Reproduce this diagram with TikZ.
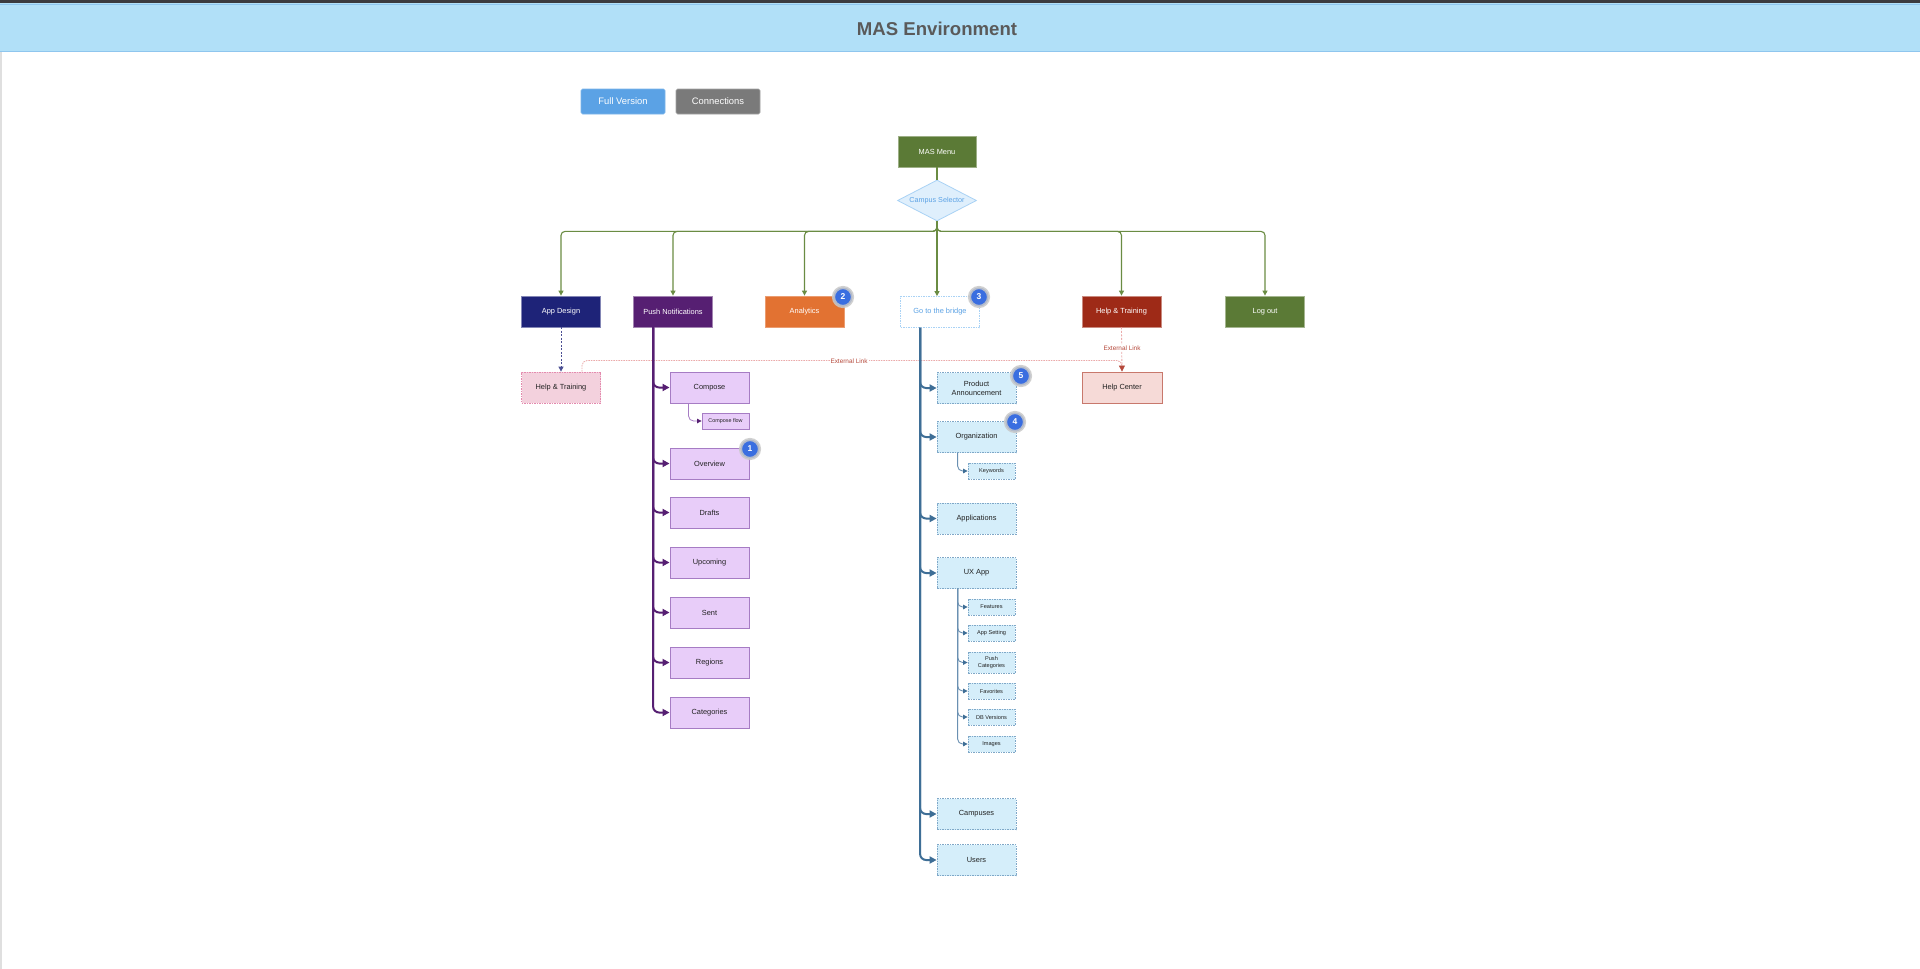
\documentclass[tikz,border=0pt]{standalone}
\usepackage{fontspec}
\setmainfont{Liberation Sans}
\usetikzlibrary{arrows.meta,shapes.geometric}
\newcommand\fsz[1]{\fontsize{#1}{#1}\selectfont}
\definecolor{hdrfill}{HTML}{B1E0F8}
\definecolor{hdrline}{HTML}{8FC6EE}
\definecolor{topbar}{HTML}{3B3B3F}
\definecolor{titlec}{HTML}{5A5A5A}
\definecolor{btnblue}{HTML}{5BA2E5}
\definecolor{btngrey}{HTML}{7A7A7A}
\definecolor{olive}{HTML}{5B7A36}
\definecolor{busc}{HTML}{6A8C43}
\definecolor{selfill}{HTML}{DFEFFC}
\definecolor{seldraw}{HTML}{A9D2F5}
\definecolor{navy}{HTML}{1E2378}
\definecolor{pushc}{HTML}{561F72}
\definecolor{orange}{HTML}{E27232}
\definecolor{redd}{HTML}{9E2A17}
\definecolor{pfill}{HTML}{E8CDF9}
\definecolor{pdraw}{HTML}{A67CC4}
\definecolor{bfill}{HTML}{D5EEFA}
\definecolor{bdraw}{HTML}{7FA8C8}
\definecolor{bridgec}{HTML}{3E6E96}
\definecolor{bsubc}{HTML}{6A90B2}
\definecolor{pinkfill}{HTML}{F3D1DD}
\definecolor{pinkdraw}{HTML}{E48AAE}
\definecolor{hcfill}{HTML}{F6DAD7}
\definecolor{hcdraw}{HTML}{C8786C}
\definecolor{extc}{HTML}{EBAAAA}
\definecolor{extt}{HTML}{B5483A}
\definecolor{badgeb}{HTML}{3A6EE0}
\definecolor{halo}{HTML}{C8C8C8}
\definecolor{txt}{HTML}{222222}
\begin{document}
\begin{tikzpicture}[x=1pt,y=-1pt,
  top/.style={minimum width=79pt,minimum height=31pt,inner sep=0pt,font=\fsz{7.4},text=white,line width=0.8pt},
  pch/.style={minimum width=79pt,minimum height=31pt,inner sep=0pt,fill=pfill,draw=pdraw,line width=0.9pt,font=\fsz{7.4},text=txt},
  psm/.style={pch,minimum width=47pt,minimum height=16pt,font=\fsz{5.4}},
  bch/.style={minimum width=79pt,minimum height=31pt,inner sep=0pt,fill=bfill,draw=bdraw,dash pattern=on 1.5pt off 1pt,line width=0.8pt,font=\fsz{7.4},text=txt,align=center},
  bsm/.style={bch,minimum width=47pt,minimum height=16pt,font=\fsz{5.6}},
  btn/.style={minimum width=84pt,minimum height=25pt,inner sep=0pt,rounded corners=1.5pt,text=white,font=\fsz{9.4},line width=0.6pt},
  bus/.style={draw=busc,line width=1.1pt,rounded corners=4pt,-{Triangle[length=5pt,width=5pt]}},
  ptr/.style={draw=pushc,line width=2pt,rounded corners=6pt,-{Triangle[length=7pt,width=7pt]}},
  btr/.style={draw=bridgec,line width=2pt,rounded corners=6pt,-{Triangle[length=7pt,width=7pt]}},
  psub/.style={draw=pdraw,line width=0.8pt,rounded corners=5pt,-{Triangle[length=4.5pt,width=4.5pt,color=pushc]}},
  bsub/.style={draw=bsubc,line width=0.9pt,rounded corners=5pt,-{Triangle[length=4.5pt,width=4.5pt,color=bridgec]}},
  badge/.style={circle,fill=badgeb,draw=halo,draw opacity=0.85,line width=3.2pt,minimum size=19pt,inner sep=0pt,text=white,font=\fsz{8.5}\bfseries},
  extlab/.style={fill=white,inner sep=1pt,text=extt,font=\fsz{6.4}}
]
\useasboundingbox (0,0) rectangle (1920,969);
\fill[white] (0,0) rectangle (1920,969);
% header
\fill[topbar] (0,0) rectangle (1920,3);
\fill[hdrfill] (0,3) rectangle (1920,52);
\draw[hdrline,line width=1pt] (0,4) -- (1920,4);
\draw[hdrline,line width=1pt] (0,51.5) -- (1920,51.5);
\draw[gray!25,line width=1.5pt] (0.75,52) -- (0.75,969);
\node[text=titlec,font=\fsz{18.6}\bfseries] (title) at (937,29) {MAS Environment};
% buttons
\node[btn,fill=btnblue,draw=btnblue!80!white] (full) at (623,101.5) {Full Version};
\node[btn,fill=btngrey,draw=btngrey!70!white] (conn) at (718,101.5) {Connections};
% menu and selector
\node[top,fill=olive,draw=olive!60!white,minimum width=78pt] (menu) at (937,151.5) {MAS Menu};
\node[diamond,aspect=2,minimum width=79pt,minimum height=41pt,inner sep=0pt,fill=selfill,draw=seldraw,line width=0.8pt,text=btnblue,font=\fsz{7.2}] (sel) at (937,200.5) {Campus Selector};
\draw[busc,line width=1.1pt] (menu.south) -- (sel.north);
% top row
\node[top,fill=navy,draw=navy!55!white] (appd) at (561,311.5) {App Design};
\node[top,fill=pushc,draw=pushc!55!white] (push) at (673,311.5) {Push Notifications};
\node[top,fill=orange,draw=orange!70!white] (anal) at (804.5,311.5) {Analytics};
\node[top,fill=white,draw=seldraw,dash pattern=on 1.5pt off 1pt,text=btnblue] (bridge) at (940,312) {Go to the bridge};
\node[top,fill=redd,draw=redd!55!white] (helpt) at (1121.5,311.5) {Help \& Training};
\node[top,fill=olive,draw=olive!55!white] (logout) at (1265,311.5) {Log out};
\draw[bus] (sel.south) -- ++(0,10) -| (appd.north);
\draw[bus] (sel.south) -- ++(0,10) -| (push.north);
\draw[bus] (sel.south) -- ++(0,10) -| (anal.north);
\draw[bus] (sel.south) -- (sel.south |- bridge.north);
\draw[bus] (sel.south) -- ++(0,10) -| (helpt.north);
\draw[bus] (sel.south) -- ++(0,10) -| (logout.north);
% second row left / right
\node[minimum width=79pt,minimum height=31pt,inner sep=0pt,fill=pinkfill,draw=pinkdraw,dash pattern=on 1.5pt off 1pt,line width=0.8pt,font=\fsz{7.4},text=txt] (htl) at (561,387.5) {Help \& Training};
\node[minimum width=80pt,minimum height=31pt,inner sep=0pt,fill=hcfill,draw=hcdraw,line width=0.9pt,font=\fsz{7.4},text=txt] (hc) at (1122,387.5) {Help Center};
\draw[navy!80!white,line width=0.8pt,dash pattern=on 2pt off 1.5pt,-{Triangle[length=5pt,width=5pt]}] (appd.south) -- (htl.north);
\coordinate (hs) at ([xshift=21pt]htl.north);
\draw[extc,line width=0.8pt,dash pattern=on 1.5pt off 1pt,rounded corners=5pt] (hs) |- ([yshift=11pt]hc.north) -- (hc.north);
\node[extlab] (ext1) at (849,361) {External Link};
\draw[extc,line width=0.8pt,dash pattern=on 2pt off 1.5pt,-{Triangle[length=6pt,width=6pt,color=extt]}] (helpt.south) -- (hc.north);
\node[extlab] (ext2) at (1122,348) {External Link};
% push subtree
\node[pch] (compose) at (709.5,387.5) {Compose};
\node[psm] (cflow) at (725.5,421) {Compose flow};
\node[pch] (overview) at (709.5,463.5) {Overview};
\node[pch] (drafts) at (709.5,512.5) {Drafts};
\node[pch] (upcoming) at (709.5,562.5) {Upcoming};
\node[pch] (sent) at (709.5,612.5) {Sent};
\node[pch] (regions) at (709.5,662.5) {Regions};
\node[pch] (categ) at (709.5,712.5) {Categories};
\coordinate (pt) at ([xshift=20pt]push.south west);
\foreach \n in {categ,regions,sent,upcoming,drafts,overview,compose}
  \draw[ptr] (pt) |- (\n.west);
\coordinate (ct) at ([xshift=19pt]compose.south west);
\draw[psub] (ct) |- (cflow.west);
% bridge subtree
\node[bch] (prod) at (976.5,388) {Product\\[1.5pt]Announcement};
\node[bch] (org) at (976.5,437) {Organization};
\node[bsm] (kw) at (991.5,471) {Keywords};
\node[bch] (apps) at (976.5,518.5) {Applications};
\node[bch] (ux) at (976.5,573) {UX App};
\node[bsm] (feat) at (991.5,607) {Features};
\node[bsm] (appset) at (991.5,633) {App Setting};
\node[bsm,minimum height=21pt] (pushcat) at (991.5,662.5) {Push\\[0.5pt]Categories};
\node[bsm] (fav) at (991.5,691) {Favorites};
\node[bsm] (dbv) at (991.5,717) {DB Versions};
\node[bsm] (img) at (991.5,744) {Images};
\node[bch] (camp) at (976.5,814) {Campuses};
\node[bch] (users) at (976.5,860) {Users};
\coordinate (bt) at ([xshift=20pt]bridge.south west);
\foreach \n in {users,camp,ux,apps,org,prod}
  \draw[btr] (bt) |- (\n.west);
\coordinate (ot) at ([xshift=21pt]org.south west);
\draw[bsub] (ot) |- (kw.west);
\coordinate (ut) at ([xshift=21pt]ux.south west);
\foreach \n in {img,dbv,fav,pushcat,appset,feat}
  \draw[bsub] (ut) |- (\n.west);
% badges
\node[badge] (b1) at (750,449) {1};
\node[badge] (b2) at (843,297) {2};
\node[badge] (b3) at (979,297) {3};
\node[badge] (b4) at (1015,422) {4};
\node[badge] (b5) at (1021,376) {5};
\end{tikzpicture}
\end{document}
